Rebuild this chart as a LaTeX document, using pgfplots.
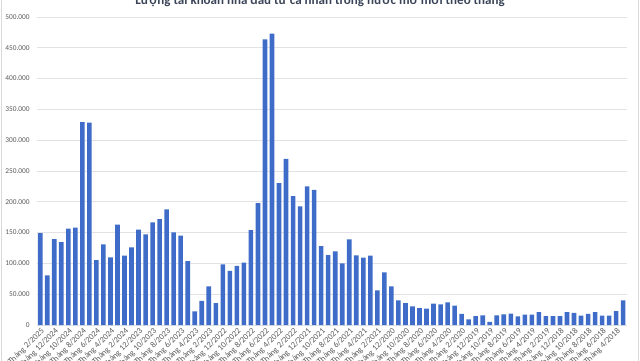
\documentclass[border=0pt]{standalone}
\usepackage{fontspec}
\setmainfont{Carlito}
\usepackage{pgfplots}
\pgfplotsset{compat=1.18}
\usepackage{pgfplotstable}
\definecolor{barblue}{RGB}{62,108,200}
\definecolor{gridgray}{RGB}{226,226,230}
\definecolor{ticktext}{RGB}{89,89,89}
\definecolor{titlecol}{RGB}{58,68,88}
\definecolor{framegray}{RGB}{217,217,217}
\pgfplotstableread{
i v
0 149000
1 80600
2 139600
3 134700
4 156300
5 158000
6 329500
7 328400
8 105500
9 131000
10 109900
11 162800
12 112500
13 126000
14 154700
15 147200
16 166700
17 172000
18 187800
19 150400
20 145000
21 103900
22 22200
23 39000
24 62800
25 35700
26 98500
27 87700
28 95800
29 101400
30 154200
31 198000
32 463800
33 472900
34 230500
35 269500
36 209400
37 192600
38 225100
39 219200
40 128200
41 113600
42 119600
43 100100
44 139100
45 113100
46 109300
47 112500
48 56300
49 85500
50 62800
51 40000
52 35700
53 30300
54 27600
55 26500
56 34600
57 33500
58 36800
59 31400
60 17900
61 9200
62 14600
63 15700
64 4900
65 15700
66 17300
67 18400
68 14100
69 16800
70 16800
71 21100
72 14600
73 14600
74 14600
75 21100
76 19500
77 15200
78 17900
79 21100
80 15200
81 15200
82 22700
83 40000
}\datatable
\begin{document}
\begin{tikzpicture}[x=1pt,y=1pt]
\draw[framegray, line width=0.8pt] (1.7,-5) -- (1.7,365);
\draw[framegray, line width=0.8pt] (638.3,-5) -- (638.3,365);
\node[anchor=base, font=\fontsize{13}{15}\selectfont\bfseries, text=titlecol] at (320,355.5) {Lượng tài khoản nhà đầu tư cá nhân trong nước mở mới theo tháng};
\begin{axis}[
  at={(36.7pt,35pt)}, anchor=south west,
  scale only axis, width=590pt, height=308pt,
  xmin=-0.5, xmax=83.5, ymin=0, ymax=500000,
  scaled y ticks=false,
  ybar, bar width=4.6pt,
  axis line style={draw=none},
  major tick length=0pt,
  ymajorgrids, major grid style={gridgray, line width=0.8pt},
  ytick={0,50000,100000,150000,200000,250000,300000,350000,400000,450000,500000},
  yticklabels={0,50.000,100.000,150.000,200.000,250.000,300.000,350.000,400.000,450.000,500.000},
  yticklabel style={font=\fontsize{7.4}{8}\selectfont, text=ticktext, xshift=-3.5pt},
  xtick={0,2,...,82},
  xticklabels={Tháng 2/2025,Tháng 12/2024,Tháng 10/2024,Tháng 8/2024,Tháng 6/2024,Tháng 4/2024,Tháng 2/2024,Tháng 12/2023,Tháng 10/2023,Tháng 8/2023,Tháng 6/2023,Tháng 4/2023,Tháng 2/2023,Tháng 12/2022,Tháng 10/2022,Tháng 8/2022,Tháng 6/2022,Tháng 4/2022,Tháng 2/2022,Tháng 12/2021,Tháng 10/2021,Tháng 8/2021,Tháng 6/2021,Tháng 4/2021,Tháng 2/2021,Tháng 12/2020,Tháng 10/2020,Tháng 8/2020,Tháng 6/2020,Tháng 4/2020,Tháng 2/2020,Tháng 12/2019,Tháng 10/2019,Tháng 8/2019,Tháng 6/2019,Tháng 4/2019,Tháng 2/2019,Tháng 12/2018,Tháng 10/2018,Tháng 8/2018,Tháng 6/2018,Tháng 4/2018},
  xticklabel style={font=\fontsize{8.4}{9}\selectfont, text=ticktext, rotate=45, anchor=east, yshift=-5.5pt, xshift=2pt},
  /pgf/number format/assume math mode=true,
  clip=false,
]
\addplot[fill=barblue, draw=none, bar shift=0pt] table[x=i, y=v] {\datatable};
\end{axis}
\pgfresetboundingbox
\useasboundingbox (0,0) rectangle (640,360);
\end{tikzpicture}
\end{document}
